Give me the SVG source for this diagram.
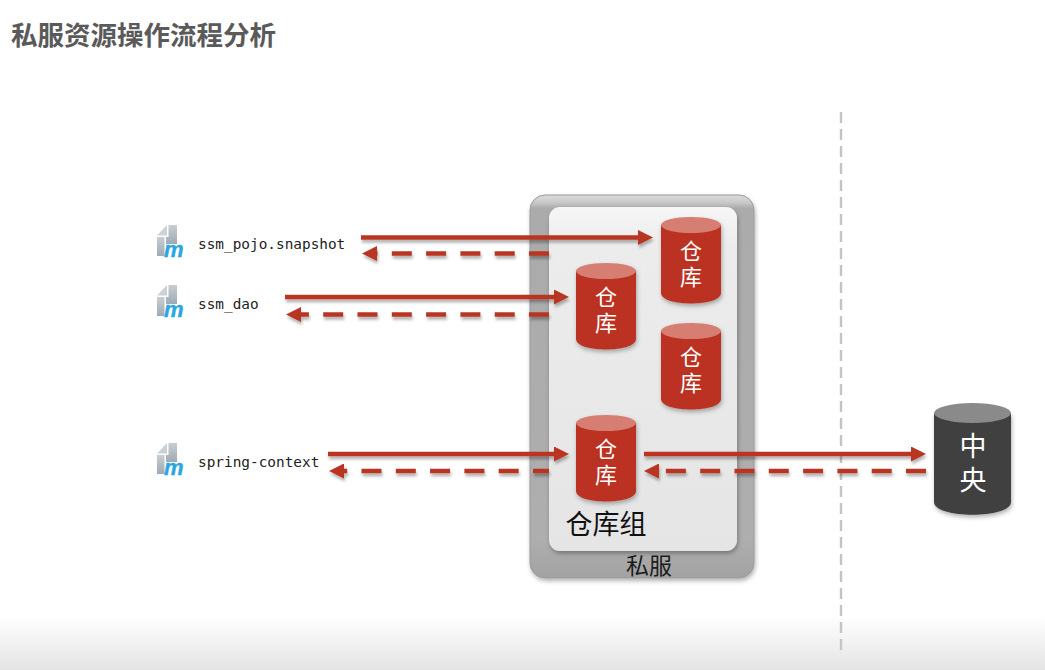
<svg xmlns="http://www.w3.org/2000/svg" width="1045" height="670" viewBox="0 0 1045 670">
<defs>
<linearGradient id="bottomFade" x1="0" y1="0" x2="0" y2="1"><stop offset="0" stop-color="#ffffff"/><stop offset="1" stop-color="#e4e4e4"/></linearGradient>
<linearGradient id="rim" x1="0" y1="0" x2="0" y2="1"><stop offset="0" stop-color="#dcdcdc"/><stop offset="0.02" stop-color="#c8c8c8"/><stop offset="0.035" stop-color="#ababab"/><stop offset="0.9" stop-color="#aeaeae"/><stop offset="1" stop-color="#a2a2a2"/></linearGradient>
<linearGradient id="panel" x1="0" y1="0" x2="0" y2="1"><stop offset="0" stop-color="#f6f6f6"/><stop offset="0.12" stop-color="#ececec"/><stop offset="1" stop-color="#e5e5e5"/></linearGradient>
<linearGradient id="iconDark" x1="0" y1="0" x2="0" y2="1"><stop offset="0" stop-color="#c9ced2"/><stop offset="1" stop-color="#9eaab3"/></linearGradient>
<filter id="soft" x="-20%" y="-20%" width="140%" height="140%"><feDropShadow dx="1" dy="2.500" stdDeviation="2" flood-color="#000" flood-opacity="0.3"/></filter>
<filter id="lineShadow" x="-5%" y="-100%" width="110%" height="400%"><feDropShadow dx="1" dy="3" stdDeviation="1.600" flood-color="#000" flood-opacity="0.3"/></filter>
<marker id="arrow" markerUnits="userSpaceOnUse" markerWidth="15" markerHeight="15" refX="2" refY="7.500" orient="auto"><path d="M0 0 L15 7.500 L0 15 Z" fill="#b93423"/></marker>
<g id="cylRed">
<path d="M0 8 V76 C0 90 60 90 60 76 V8 Z" fill="#bb3322"/>
<ellipse cx="30" cy="8" rx="30" ry="8" fill="#d67e72"/>
</g>
<g id="mavenIcon">
<path d="M1 10.500 L11 0 V10.500 Z" fill="#cdd1d4"/>
<path d="M12.500 0 H21 V19 H10 V12 H12.500 Z" fill="url(#iconDark)"/>
<path d="M1 12 H8.500 V31 H1 Z" fill="url(#iconDark)"/>
<text class="icon-m" x="8" y="32">m</text>
</g>
</defs>
<style>
text{font-family:"Liberation Sans","Noto Sans CJK SC",sans-serif}
.solid{stroke:#b93423;stroke-width:4.500;fill:none}
.dash{stroke:#b93423;stroke-width:4.500;fill:none;stroke-dasharray:20 14.300}
.cyl{fill:#fff;font-size:22px;text-anchor:middle}
.mono{font-family:"DejaVu Sans Mono","Liberation Mono",monospace;font-size:14.400px;fill:#222}
.icon-m{font-family:"Liberation Sans",sans-serif;font-weight:bold;font-style:italic;font-size:22px;fill:#2aa6e0;stroke:#2aa6e0;stroke-width:0.400}
</style>
<rect width="1045" height="670" fill="#fff"/>
<rect y="615" width="1045" height="55" fill="url(#bottomFade)"/>
<text id="title" x="11" y="45" font-size="26.500" font-weight="700" fill="#5a5a5a">私服资源操作流程分析</text>
<line id="divider" x1="841" y1="112" x2="841" y2="650" stroke="#c4c4c4" stroke-width="2.400" stroke-dasharray="11 6"/>

<g id="server">
<rect x="530" y="195" width="224" height="383" rx="15" fill="url(#rim)" stroke="#9a9a9a" stroke-width="1" filter="url(#soft)"/>
<rect x="549" y="207" width="188" height="344" rx="11" fill="url(#panel)" filter="url(#soft)"/>
<text x="649" y="574" font-size="23" fill="#1c1c1c" text-anchor="middle">私服</text>
<text x="606" y="534" font-size="27" fill="#111" text-anchor="middle">仓库组</text>
</g>

<g id="repo-1"><use href="#cylRed" x="661" y="217" filter="url(#soft)"/>
<text class="cyl"><tspan x="691" y="259">仓</tspan><tspan x="691" y="285">库</tspan></text></g>
<g id="repo-2"><use href="#cylRed" x="576" y="263" filter="url(#soft)"/>
<text class="cyl"><tspan x="606" y="305">仓</tspan><tspan x="606" y="331">库</tspan></text></g>
<g id="repo-3"><use href="#cylRed" x="661" y="323" filter="url(#soft)"/>
<text class="cyl"><tspan x="691" y="365">仓</tspan><tspan x="691" y="391">库</tspan></text></g>
<g id="repo-4"><use href="#cylRed" x="576" y="415" filter="url(#soft)"/>
<text class="cyl"><tspan x="606" y="457">仓</tspan><tspan x="606" y="483">库</tspan></text></g>

<g id="central">
<path d="M934 413 V502 C934 519 1011 519 1011 502 V413 Z" fill="#3f3f3f" filter="url(#soft)"/>
<ellipse cx="972.500" cy="413" rx="38.500" ry="10" fill="#8a8a8a"/>
<text font-size="27" fill="#fff" text-anchor="middle"><tspan x="973" y="456">中</tspan><tspan x="973" y="490">央</tspan></text>
</g>

<g id="connectors" filter="url(#lineShadow)">
<line class="solid" x1="361" y1="237.500" x2="640" y2="237.500" marker-end="url(#arrow)"/>
<line class="dash" x1="549" y1="253.500" x2="375" y2="253.500" marker-end="url(#arrow)"/>
<line class="solid" x1="285" y1="297" x2="556" y2="297" marker-end="url(#arrow)"/>
<line class="dash" x1="549" y1="314.500" x2="299" y2="314.500" marker-end="url(#arrow)"/>
<line class="solid" x1="328" y1="454" x2="556" y2="454" marker-end="url(#arrow)"/>
<line class="dash" x1="549" y1="471" x2="342" y2="471" marker-end="url(#arrow)" stroke-dashoffset="4"/>
<line class="solid" x1="644" y1="454" x2="913" y2="454" marker-end="url(#arrow)"/>
<line class="dash" x1="926" y1="471" x2="657" y2="471" marker-end="url(#arrow)"/>
</g>

<g id="artifact-pojo"><use href="#mavenIcon" x="156" y="225"/>
<text class="mono" x="198" y="249">ssm_pojo.snapshot</text></g>
<g id="artifact-dao"><use href="#mavenIcon" x="156" y="285"/>
<text class="mono" x="198" y="309">ssm_dao</text></g>
<g id="artifact-spring"><use href="#mavenIcon" x="156" y="443"/>
<text class="mono" x="198" y="467">spring-context</text></g>
</svg>
